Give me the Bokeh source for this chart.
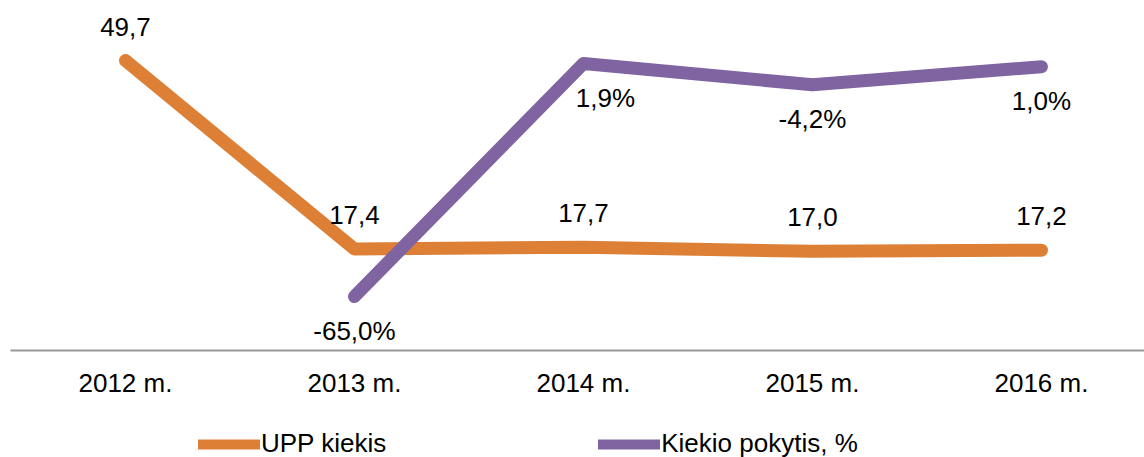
from bokeh.plotting import figure
from bokeh.layouts import column
from bokeh.models import Range1d, FixedTicker, Legend, LegendItem, ColumnDataSource
from bokeh.core.properties import value
from bokeh.embed import file_html
from bokeh.resources import INLINE

years = ["2012 m.", "2013 m.", "2014 m.", "2015 m.", "2016 m."]
upp_kiekis = [49.7, 17.4, 17.7, 17.0, 17.2]
pokytis_years = [1, 2, 3, 4]
pokytis = [-65.0, 1.9, -4.2, 1.0]

# style: horizontal nudges of the percentage labels (px)
pct_label_dx = [0, 22, 0, 0]

ORANGE = "#DD8036"
PURPLE = "#8064A2"
FONT = "Liberation Sans"
FS = "26px"

xs = list(range(len(years)))

p = figure(width=1144, height=410, output_backend="svg", toolbar_location=None,
           x_range=Range1d(-0.502, 4.45), y_range=Range1d(0, 60.0),
           min_border_left=10, min_border_right=0, min_border_top=0, min_border_bottom=60)
p.extra_y_ranges = {"pct": Range1d(-80.5, 20.0)}
p.outline_line_color = None
p.xgrid.visible = False
p.ygrid.visible = False
p.yaxis.visible = False

ax = p.xaxis[0]
ax.ticker = FixedTicker(ticks=xs)
ax.major_label_overrides = {i: y for i, y in enumerate(years)}
ax.major_tick_line_color = None
ax.minor_tick_line_color = None
ax.axis_line_color = "#9A9A9A"
ax.axis_line_width = 2
ax.major_label_text_font = FONT
ax.major_label_text_font_size = FS
ax.major_label_text_color = "black"
ax.major_label_standoff = 11

src1 = ColumnDataSource(dict(x=xs, y=upp_kiekis,
                             t=[f"{v:.1f}".replace(".", ",") for v in upp_kiekis]))
src2 = ColumnDataSource(dict(x=pokytis_years, y=pokytis, dx=pct_label_dx,
                             t=[f"{v:.1f}".replace(".", ",") + "%" for v in pokytis]))

p.line("x", "y", source=src1, line_color=ORANGE, line_width=13,
       line_cap="round", line_join="round")
p.line("x", "y", source=src2, y_range_name="pct", line_color=PURPLE, line_width=13,
       line_cap="round", line_join="round")

p.text("x", "y", text="t", source=src1, text_align="center", text_baseline="middle",
       y_offset=-34, text_font=value(FONT), text_font_size=FS, text_color="black")
p.text("x", "y", text="t", source=src2, y_range_name="pct", text_align="center",
       text_baseline="middle", x_offset="dx", y_offset=34, text_font=value(FONT),
       text_font_size=FS, text_color="black")

# legend strip below the chart (legend-only renderers with no visible data)
p2 = figure(width=1144, height=47, output_backend="svg", toolbar_location=None,
            x_range=Range1d(0, 1), y_range=Range1d(0, 1),
            x_axis_type=None, y_axis_type=None,
            min_border_left=0, min_border_right=0, min_border_top=0, min_border_bottom=0)
p2.outline_line_color = None
p2.xgrid.visible = False
p2.ygrid.visible = False
nan = float("nan")
l1 = p2.line([nan], [nan], line_color=ORANGE, line_width=10, line_cap="round")
l2 = p2.line([nan], [nan], line_color=PURPLE, line_width=10, line_cap="round")

legend = Legend(items=[LegendItem(label="UPP kiekis", renderers=[l1]),
                       LegendItem(label="Kiekio pokytis, %", renderers=[l2])],
                orientation="horizontal", location=(188, -2),
                glyph_width=62, glyph_height=20, label_standoff=1, spacing=212,
                padding=0, margin=0, border_line_alpha=0, background_fill_alpha=0,
                label_text_font=FONT, label_text_font_size=FS, label_text_color="black")
p2.add_layout(legend, "center")

layout = column(p, p2, spacing=0)
open("out.html", "w").write(file_html(layout, INLINE))
